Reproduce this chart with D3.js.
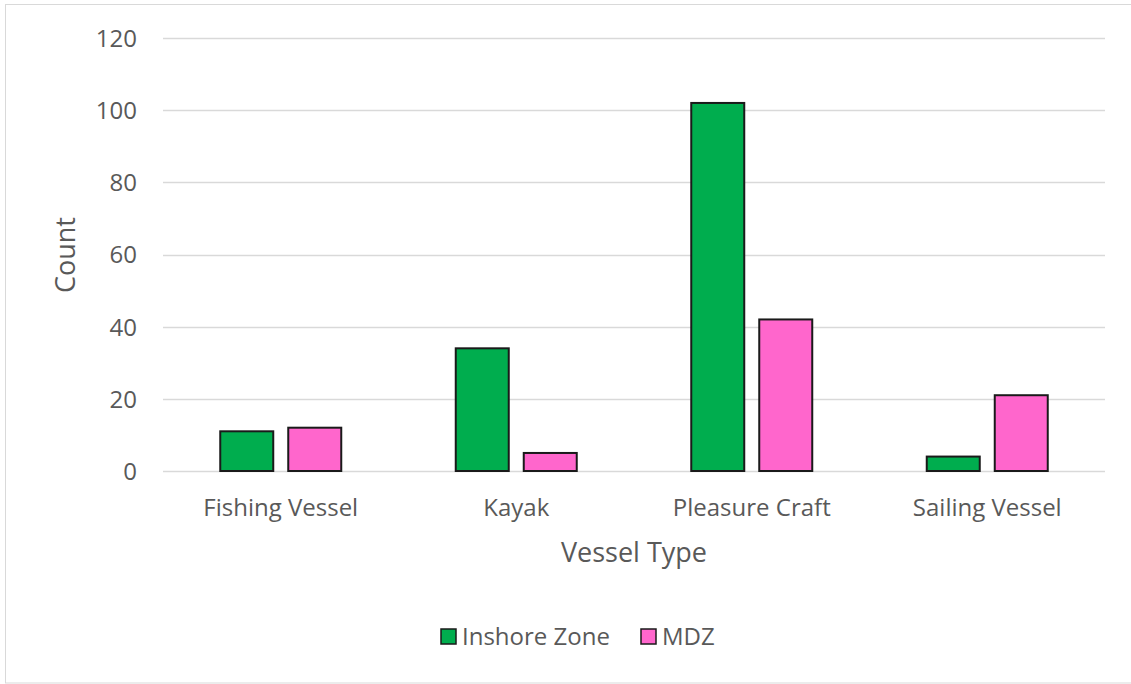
<!DOCTYPE html>
<html><head><meta charset="utf-8">
<script src="https://cdn.jsdelivr.net/npm/d3@7"></script>
<style>body{margin:0;background:#fff;} text{font-family:"Open Sans", sans-serif; fill:#595959;}</style>
</head><body>
<svg id="c" width="1131" height="684"></svg>
<script>
const categories = ["Fishing Vessel","Kayak","Pleasure Craft","Sailing Vessel"];
const seriesNames = ["Inshore Zone","MDZ"];
const inshore = [11,34,102,4];
const mdz = [12,5,42,21];
const yTicks = [0,20,40,60,80,100,120];
const colors = ["#00AD4E","#FF66CC"];

const svg = d3.select("#c");
svg.append("rect").attr("x",5.5).attr("y",4.5).attr("width",1140).attr("height",678.5)
  .attr("fill","#fff").attr("stroke","#d9d9d9").attr("stroke-width",1);

const m = {l:163, r:1105, t:38, b:471};
const y = d3.scaleLinear().domain([0,120]).range([m.b,m.t]);
const x = d3.scaleBand().domain(categories).range([m.l,m.r]).paddingInner(0).paddingOuter(0);
const x1 = d3.scaleBand().domain(seriesNames).range([0,121]).paddingInner(15/68).paddingOuter(0);
const offset = (x.bandwidth()-121)/2;

// gridlines
svg.append("g").selectAll("line").data(yTicks).join("line")
  .attr("x1",m.l).attr("x2",m.r).attr("y1",d=>Math.round(y(d))+0.5).attr("y2",d=>Math.round(y(d))+0.5)
  .attr("stroke","#d9d9d9").attr("stroke-width",1.5);

// y axis labels
const yAxis = d3.axisLeft(y).tickValues(yTicks).tickSize(0).tickPadding(0);
const gy = svg.append("g").attr("transform",`translate(${m.l-26},0)`).call(yAxis);
gy.select(".domain").remove();
gy.selectAll("text").attr("font-size",24).style("font-family","'Open Sans', sans-serif").attr("fill","#595959").attr("dy","0.35em");

// bars
const data = categories.map((c,i)=>({c, vals:[inshore[i], mdz[i]]}));
const g = svg.append("g");
data.forEach(d=>{
  seriesNames.forEach((s,j)=>{
    g.append("rect")
      .attr("x", x(d.c)+offset+x1(s))
      .attr("y", y(d.vals[j]))
      .attr("width", x1.bandwidth())
      .attr("height", y(0)-y(d.vals[j]))
      .attr("fill", colors[j]).attr("stroke","#1a1a1a").attr("stroke-width",2);
  });
});

// x axis labels
const xAxis = d3.axisBottom(x).tickSize(0).tickPadding(0);
const gx = svg.append("g").attr("transform",`translate(0,${m.b+37})`).call(xAxis);
gx.select(".domain").remove();
gx.selectAll("text").attr("font-size",24).style("font-family","'Open Sans', sans-serif").attr("fill","#595959").attr("dy","0.35em");

// axis titles
svg.append("text").attr("x",634).attr("y",553).attr("dy","0.35em").attr("text-anchor","middle").attr("font-size",27).text("Vessel Type");
svg.append("text").attr("transform","translate(66,255) rotate(-90)").attr("dy","0.35em").attr("text-anchor","middle").attr("font-size",27).text("Count");

// legend
const leg = svg.append("g");
const legItems = [{n:seriesNames[0],x:441},{n:seriesNames[1],x:641}];
legItems.forEach((it,i)=>{
  leg.append("rect").attr("x",it.x).attr("y",629).attr("width",15).attr("height",15)
    .attr("fill",colors[i]).attr("stroke","#1a1a1a").attr("stroke-width",1.5);
  leg.append("text").attr("x",it.x+21).attr("y",637).attr("dy","0.35em").attr("font-size",24).text(it.n);
});
</script>
</body></html>
